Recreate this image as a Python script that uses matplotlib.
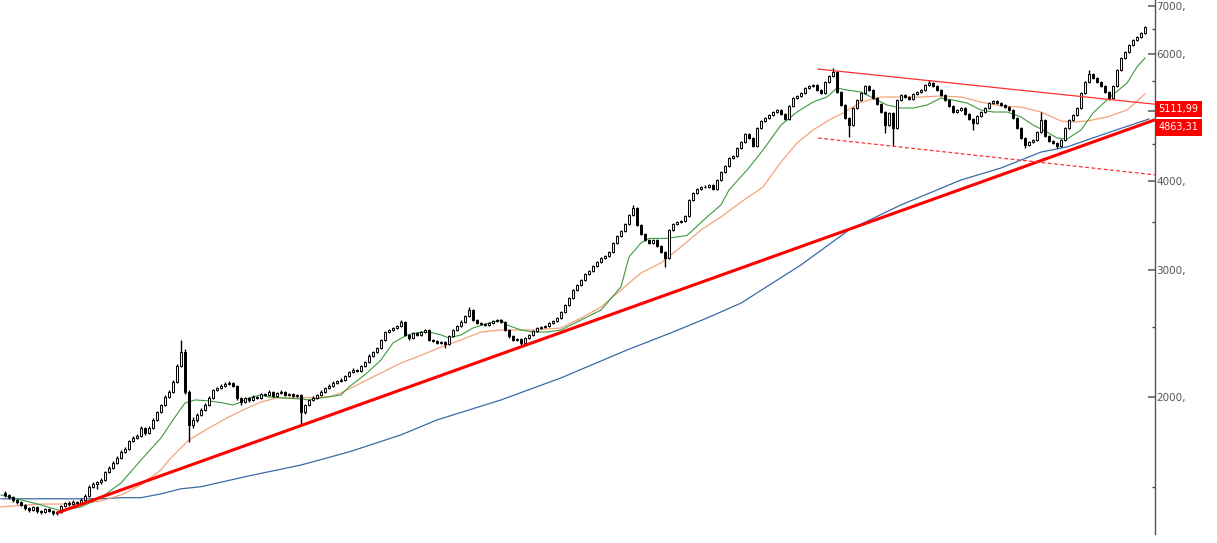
import matplotlib
matplotlib.use("Agg")
import matplotlib.pyplot as plt
import matplotlib.ticker as mticker
import numpy as np

# candle closes / highs / lows (weekly-ish bars), opens are the previous close
first_open = 1470
closes = [
    1461, 1452, 1438, 1429, 1415, 1401, 1392, 1406, 1388, 1383, 1397, 1388, 1379, 1383, 1410, 1424,
    1419, 1429, 1424, 1438, 1457, 1499, 1514, 1523, 1533, 1573, 1593, 1619, 1645, 1677, 1693, 1737,
    1754, 1765, 1811, 1782, 1811, 1858, 1906, 1949, 2000, 2032, 2099, 2209, 2310, 2032, 1828, 1858,
    1888, 1918, 1949, 1994, 2045, 2058, 2072, 2085, 2092, 2072, 1994, 1968, 1994, 1981, 2000, 1994,
    2019, 2013, 2032, 2006, 2026, 2032, 2013, 2019, 2006, 2013, 1906, 1949, 1981, 1994, 2013, 2032,
    2058, 2072, 2092, 2105, 2112, 2139, 2167, 2181, 2174, 2209, 2238, 2281, 2310, 2340, 2401, 2463,
    2479, 2495, 2511, 2544, 2440, 2416, 2455, 2440, 2463, 2479, 2401, 2393, 2378, 2386, 2370, 2432,
    2479, 2511, 2544, 2593, 2643, 2560, 2535, 2527, 2519, 2535, 2552, 2560, 2544, 2479, 2432, 2401,
    2409, 2378, 2416, 2440, 2471, 2495, 2503, 2511, 2535, 2552, 2576, 2626, 2685, 2747, 2818, 2863,
    2910, 2967, 2995, 3044, 3084, 3123, 3143, 3184, 3277, 3351, 3405, 3482, 3584, 3666, 3471, 3373,
    3308, 3277, 3308, 3245, 3184, 3123, 3416, 3482, 3505, 3516, 3573, 3761, 3846, 3896, 3921, 3921,
    3946, 3896, 4010, 4114, 4194, 4302, 4330, 4444, 4529, 4646, 4586, 4472, 4736, 4844, 4891, 4938,
    4986, 5018, 4954, 4876, 5083, 5215, 5249, 5299, 5384, 5419, 5436, 5350, 5299, 5488, 5596, 5668,
    5316, 5099, 4891, 4783, 5050, 5181, 5299, 5419, 5350, 5215, 5115, 4986, 4783, 4970, 4736, 5181,
    5265, 5232, 5198, 5282, 5316, 5350, 5436, 5471, 5419, 5350, 5265, 5181, 5083, 4986, 5018, 5050,
    4954, 4876, 4814, 4923, 4986, 5050, 5132, 5165, 5132, 5099, 5066, 5018, 4891, 4736, 4587, 4484,
    4529, 4558, 4676, 4860, 4616, 4543, 4514, 4472, 4558, 4736, 4860, 4938, 5050, 5299, 5488, 5631,
    5560, 5488, 5419, 5316, 5215, 5419, 5704, 5928, 6043, 6180, 6280, 6341, 6421, 6549,
]
highs = [
    1478, 1466, 1458, 1444, 1433, 1420, 1407, 1412, 1410, 1394, 1403, 1401, 1392, 1389, 1415, 1430,
    1431, 1436, 1434, 1445, 1465, 1506, 1522, 1530, 1541, 1580, 1601, 1627, 1653, 1685, 1702, 1745,
    1763, 1774, 1820, 1818, 1820, 1867, 1915, 1958, 2010, 2043, 2110, 2222, 2401, 2330, 2045, 1875,
    1898, 1928, 1960, 2004, 2055, 2068, 2082, 2096, 2105, 2100, 2080, 2002, 2003, 2002, 2010, 2008,
    2028, 2027, 2042, 2040, 2035, 2042, 2040, 2028, 2025, 2022, 2018, 1958, 1990, 2004, 2022, 2042,
    2068, 2082, 2102, 2115, 2122, 2149, 2177, 2192, 2190, 2219, 2248, 2292, 2321, 2351, 2412, 2474,
    2490, 2506, 2522, 2556, 2550, 2450, 2466, 2466, 2474, 2490, 2486, 2410, 2402, 2395, 2395, 2442,
    2490, 2522, 2556, 2604, 2665, 2650, 2570, 2545, 2537, 2545, 2562, 2571, 2570, 2552, 2488, 2440,
    2419, 2418, 2426, 2450, 2481, 2506, 2514, 2522, 2545, 2562, 2587, 2637, 2697, 2758, 2830, 2875,
    2922, 2980, 3008, 3057, 3097, 3136, 3156, 3197, 3291, 3365, 3419, 3496, 3599, 3700, 3680, 3485,
    3387, 3322, 3322, 3322, 3258, 3197, 3430, 3496, 3519, 3530, 3587, 3776, 3861, 3911, 3937, 3940,
    3962, 3962, 4026, 4130, 4211, 4319, 4347, 4462, 4547, 4665, 4665, 4604, 4755, 4863, 4911, 4958,
    5006, 5038, 5038, 4974, 5103, 5236, 5270, 5320, 5406, 5441, 5458, 5458, 5371, 5510, 5618, 5742,
    5690, 5337, 5119, 4911, 5070, 5202, 5320, 5441, 5441, 5371, 5236, 5135, 5006, 4990, 4990, 5202,
    5286, 5286, 5253, 5303, 5337, 5371, 5458, 5520, 5493, 5441, 5371, 5286, 5202, 5103, 5038, 5070,
    5070, 4974, 4896, 4943, 5006, 5070, 5152, 5186, 5186, 5152, 5119, 5086, 5038, 4911, 4755, 4605,
    4547, 4576, 4695, 4986, 4880, 4635, 4561, 4532, 4576, 4755, 4880, 4958, 5070, 5320, 5510, 5704,
    5654, 5582, 5510, 5441, 5337, 5441, 5727, 5952, 6067, 6205, 6305, 6366, 6447, 6575,
]
lows = [
    1452, 1444, 1430, 1420, 1408, 1393, 1385, 1388, 1380, 1375, 1378, 1381, 1370, 1372, 1380, 1405,
    1412, 1414, 1417, 1420, 1433, 1452, 1492, 1489, 1515, 1528, 1566, 1587, 1612, 1639, 1670, 1688,
    1730, 1746, 1758, 1773, 1776, 1805, 1851, 1899, 1941, 1992, 2024, 2090, 2200, 2020, 1732, 1810,
    1845, 1880, 1910, 1940, 1987, 2036, 2050, 2064, 2076, 2062, 1982, 1950, 1960, 1970, 1974, 1984,
    1988, 2004, 2006, 1998, 2000, 2018, 2005, 2006, 1998, 1999, 1828, 1895, 1940, 1972, 1986, 2005,
    2025, 2050, 2064, 2084, 2096, 2104, 2130, 2158, 2164, 2166, 2200, 2229, 2272, 2300, 2331, 2392,
    2454, 2470, 2486, 2502, 2428, 2404, 2408, 2430, 2432, 2454, 2390, 2382, 2367, 2368, 2340, 2362,
    2424, 2470, 2502, 2535, 2584, 2548, 2524, 2516, 2508, 2510, 2526, 2543, 2534, 2468, 2420, 2390,
    2392, 2362, 2370, 2408, 2432, 2463, 2486, 2494, 2502, 2526, 2543, 2567, 2617, 2676, 2738, 2808,
    2853, 2900, 2956, 2985, 3033, 3073, 3110, 3132, 3172, 3265, 3339, 3393, 3470, 3572, 3458, 3360,
    3295, 3264, 3264, 3232, 3171, 3036, 3110, 3402, 3468, 3490, 3502, 3560, 3746, 3831, 3881, 3902,
    3905, 3880, 3881, 3994, 4098, 4177, 4285, 4313, 4426, 4511, 4568, 4454, 4454, 4717, 4825, 4871,
    4918, 4966, 4934, 4856, 4856, 5063, 5194, 5228, 5278, 5362, 5397, 5329, 5278, 5278, 5466, 5574,
    5295, 5078, 4871, 4600, 4764, 5030, 5160, 5278, 5329, 5194, 5095, 4966, 4660, 4764, 4470, 4717,
    5160, 5211, 5177, 5177, 5261, 5295, 5329, 5414, 5397, 5329, 5244, 5160, 5063, 4966, 4966, 4998,
    4934, 4856, 4706, 4795, 4903, 4966, 5030, 5112, 5112, 5079, 5046, 4998, 4871, 4717, 4568, 4440,
    4466, 4511, 4540, 4657, 4597, 4525, 4496, 4440, 4454, 4540, 4717, 4841, 4918, 5030, 5278, 5466,
    5538, 5466, 5397, 5295, 5181, 5194, 5397, 5681, 5904, 6019, 6155, 6255, 6316, 6396,
]

# moving averages (bar index, value)
ma_fast_idx = [-1, 4, 9, 14, 19, 24, 29, 34, 39, 42, 45, 47.5, 51, 54.5, 57, 59, 61, 64, 66, 69.5,
               74, 76, 79, 84, 86, 90.5, 94, 97, 100.5, 104, 106, 109, 111, 114, 117, 121, 124, 125.5,
               129, 132, 135.5, 139, 144, 149, 154, 156, 159, 161, 165.5, 170.5, 172, 175.5, 179, 181,
               185.5, 189.5, 194, 198, 202, 205.5, 208, 210.5, 214, 217, 220.5, 224, 227, 230.5, 234,
               237, 240.5, 244, 247, 250.5, 254, 257, 260.5, 263, 265.5, 269, 272, 276, 280.5, 283, 285]
ma_fast = [1461, 1438, 1415, 1388, 1406, 1448, 1518, 1634, 1754, 1858, 1962, 1981, 1975, 1962, 1949,
           1968, 1994, 2013, 2000, 1994, 1987, 1981, 1994, 2013, 2065, 2160, 2252, 2378, 2440, 2463,
           2463, 2440, 2416, 2440, 2495, 2535, 2560, 2519, 2479, 2463, 2463, 2479, 2560, 2643, 2847,
           3133, 3277, 3325, 3325, 3357, 3416, 3562, 3702, 3883, 4140, 4414, 4783, 4986, 5148, 5232,
           5384, 5350, 5316, 5215, 5099, 5050, 5050, 5099, 5215, 5181, 5132, 5018, 4986, 4986, 4907,
           4783, 4676, 4587, 4572, 4706, 4970, 5215, 5471, 5761, 5928]

ma_mid_idx = [-1, 9, 19, 24, 29, 34, 39, 41, 44, 46, 51, 56, 59.5, 64, 68, 74, 81, 84, 89, 94, 99,
              104, 109, 114, 119, 124, 132, 139, 144, 149, 154, 159, 164, 169, 174, 179, 184, 189.5,
              194, 198, 202, 206, 209.5, 214, 219, 229, 234, 239, 244, 249, 254, 259, 264, 267, 270.5,
              275.5, 280.5, 285]
ma_mid = [1406, 1419, 1419, 1433, 1461, 1509, 1583, 1634, 1699, 1743, 1811, 1876, 1918, 1968, 1994,
          1994, 2000, 2026, 2092, 2160, 2230, 2286, 2347, 2401, 2463, 2479, 2479, 2495, 2576, 2669,
          2818, 2976, 3074, 3235, 3416, 3562, 3736, 3921, 4247, 4514, 4706, 4860, 4970, 5148, 5232,
          5232, 5249, 5232, 5148, 5083, 5066, 4986, 4844, 4829, 4844, 4907, 5018, 5282]

ma_slow_idx = [-1, 24, 29, 34, 39, 44, 49, 61, 74, 86, 99, 108, 124, 139, 155.5, 167, 175.5, 184,
               199, 211, 224, 239, 249, 259, 265.5, 277, 286]
ma_slow = [1443, 1443, 1448, 1448, 1466, 1490, 1500, 1553, 1608, 1677, 1771, 1858, 1981, 2126, 2325,
           2463, 2576, 2702, 3054, 3416, 3702, 4010, 4167, 4385, 4458, 4691, 4876]

# trendlines (bar index, value)
support_idx = [13, 287.5]
support_val = [1379, 4863.31]
upper_idx = [203.25, 287.5]
upper_val = [5722, 5111.99]
lower_idx = [203.25, 287.5]
lower_val = [4587, 4076]

major_ticks = [2000, 3000, 4000, 5000, 6000, 7000]
minor_ticks = [1500, 2500, 3500, 4500, 5500, 6500]
hidden_labels = [5000]

fig = plt.figure(figsize=(12.17, 5.43), dpi=100)
ax = fig.add_axes([0, 9 / 543, 1155 / 1217, 534 / 543])

c = np.array(closes, dtype=float)
o = np.concatenate([[first_open], c[:-1]])
h = np.array(highs, dtype=float)
l = np.array(lows, dtype=float)
x = np.arange(len(c))
up = c >= o

ax.vlines(x, l, h, color="black", linewidth=1.0, zorder=3)
ax.bar(x[up], c[up] - o[up], bottom=o[up], width=0.7, facecolor="#f2f2f2",
       edgecolor="black", linewidth=0.7, zorder=4)
ax.bar(x[~up], o[~up] - c[~up], bottom=c[~up], width=0.7, facecolor="black",
       edgecolor="black", linewidth=0.7, zorder=4)

ax.plot(ma_slow_idx, ma_slow, color="#3a6aa8", linewidth=0.9, zorder=2)
ax.plot(ma_mid_idx, ma_mid, color="#f5a37a", linewidth=0.9, zorder=2)
ax.plot(ma_fast_idx, ma_fast, color="#3c9a3c", linewidth=0.8, zorder=2)

ax.plot(support_idx, support_val, color="#ff0000", linewidth=2.2, zorder=5, solid_capstyle="butt")
ax.plot(upper_idx, upper_val, color="#ff3030", linewidth=0.9, zorder=5)
ax.plot(lower_idx, lower_val, color="#ff3030", linewidth=0.9, linestyle=(0, (3, 2)), zorder=5)

ax.set_yscale("log")
ax.set_ylim(1289, 7140)
ax.set_xlim(-1.25, 287.5)

for s in ["top", "left", "bottom"]:
    ax.spines[s].set_visible(False)
ax.spines["right"].set_color("#555555")
ax.spines["right"].set_linewidth(1.0)
ax.xaxis.set_visible(False)

ax.yaxis.tick_right()
ax.yaxis.set_major_locator(mticker.FixedLocator(major_ticks))
ax.yaxis.set_minor_locator(mticker.FixedLocator(minor_ticks))
ax.yaxis.set_major_formatter(
    mticker.FuncFormatter(lambda v, p: "" if int(round(v)) in hidden_labels else f"{int(round(v))},"))
ax.yaxis.set_minor_formatter(mticker.NullFormatter())
ax.tick_params(axis="y", which="major", direction="in", length=5, width=1.2,
               color="#666666", labelsize=7.5, labelcolor="#555555", pad=1)
ax.tick_params(axis="y", which="minor", direction="in", length=2.5, width=1,
               color="#444444")

for val, dy in [(upper_val[-1], -3.5), (support_val[-1], -5.5)]:
    ax.annotate(f"{val:.2f}".replace(".", ","), xy=(1.0, val),
                xycoords=("axes fraction", "data"), xytext=(2.5, dy),
                textcoords="offset points", ha="left", va="center",
                fontsize=7, color="white", zorder=10, annotation_clip=False,
                bbox=dict(boxstyle="square,pad=0.35", facecolor="#ff0000",
                          edgecolor="none"))

fig.savefig("out.png", dpi=100)
